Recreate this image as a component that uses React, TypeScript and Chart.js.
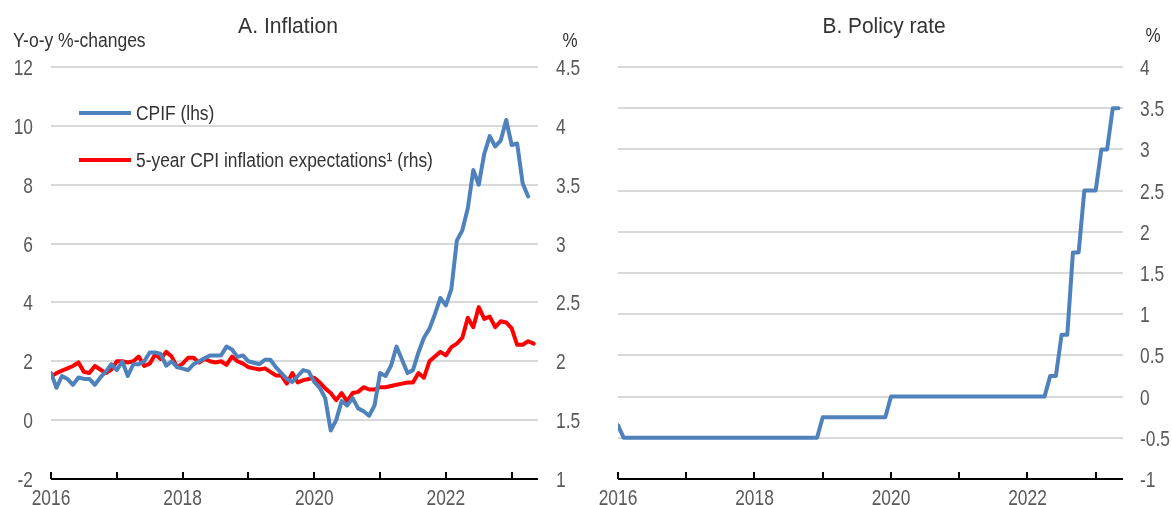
import { useEffect, useRef } from 'react';
import { Chart, registerables } from 'chart.js';

Chart.register(...registerables);

// ---------- data ----------
const FIRST_YEAR = 2016;
const X_MIN = 2016;
const X_MAX = 2023.4;
const yearTicks = [2016, 2017, 2018, 2019, 2020, 2021, 2022, 2023];
const labelledYears = [2016, 2018, 2020, 2022];

const inflationLeftTicks = [-2, 0, 2, 4, 6, 8, 10, 12];
const inflationRightTicks = [1, 1.5, 2, 2.5, 3, 3.5, 4, 4.5];
const policyTicks = [-1, -0.5, 0, 0.5, 1, 1.5, 2, 2.5, 3, 3.5, 4];

// CPIF, y-o-y %, monthly Jan 2016 - Apr 2023
const cpif = [
  1.6, 1.1, 1.5, 1.4, 1.2, 1.45, 1.4, 1.4, 1.2, 1.45, 1.65, 1.9,
  1.7, 2.0, 1.5, 1.9, 1.9, 2.0, 2.3, 2.3, 2.25, 1.85, 2.0, 1.8,
  1.75, 1.7, 1.9, 2.0, 2.1, 2.2, 2.2, 2.2, 2.5, 2.4, 2.15, 2.2,
  2.0, 1.95, 1.9, 2.05, 2.05, 1.8, 1.6, 1.4, 1.3, 1.5, 1.7, 1.65,
  1.3, 1.1, 0.75, -0.35, 0.0, 0.65, 0.5, 0.75, 0.4, 0.3, 0.15, 0.5,
  1.6, 1.5, 1.85, 2.5, 2.05, 1.6, 1.7, 2.3, 2.8, 3.1, 3.6, 4.15,
  3.9, 4.45, 6.1, 6.45, 7.2, 8.5, 8.0, 9.05, 9.65, 9.3, 9.5, 10.2,
  9.35, 9.4, 8.05, 7.6,
];

// 5-year CPI inflation expectations, %, monthly Jan 2016 - May 2023
const expectations = [
  1.87, 1.9, 1.92, 1.94, 1.96, 1.99, 1.91, 1.9, 1.96, 1.93, 1.9, 1.93,
  2.0, 2.0, 1.99, 2.0, 2.04, 1.96, 1.98, 2.06, 2.02, 2.08, 2.04, 1.95,
  1.98, 2.03, 2.03, 1.99, 2.02, 2.0, 1.99, 2.0, 1.97, 2.04, 2.0, 1.98,
  1.95, 1.94, 1.93, 1.94, 1.91, 1.88, 1.88, 1.81, 1.9, 1.82, 1.84, 1.85,
  1.86, 1.82, 1.77, 1.73, 1.67, 1.73, 1.66, 1.73, 1.74, 1.78, 1.76, 1.76,
  1.78, 1.78, 1.79, 1.8, 1.81, 1.82, 1.82, 1.9, 1.86, 2.0, 2.04, 2.08,
  2.05, 2.12, 2.15, 2.2, 2.37, 2.29, 2.46, 2.36, 2.38, 2.29, 2.34, 2.33,
  2.28, 2.14, 2.14, 2.17, 2.15,
];

// Policy rate, %, monthly Jan 2016 - May 2023
const policyRate = [
  -0.35, -0.5, -0.5, -0.5, -0.5, -0.5, -0.5, -0.5, -0.5, -0.5, -0.5, -0.5,
  -0.5, -0.5, -0.5, -0.5, -0.5, -0.5, -0.5, -0.5, -0.5, -0.5, -0.5, -0.5,
  -0.5, -0.5, -0.5, -0.5, -0.5, -0.5, -0.5, -0.5, -0.5, -0.5, -0.5, -0.5,
  -0.25, -0.25, -0.25, -0.25, -0.25, -0.25, -0.25, -0.25, -0.25, -0.25, -0.25, -0.25,
  0, 0, 0, 0, 0, 0, 0, 0, 0, 0, 0, 0,
  0, 0, 0, 0, 0, 0, 0, 0, 0, 0, 0, 0,
  0, 0, 0, 0, 0.25, 0.25, 0.75, 0.75, 1.75, 1.75, 2.5, 2.5,
  2.5, 3.0, 3.0, 3.5, 3.5,
];

// ---------- styling ----------
const FONT = "'Liberation Sans', Arial, sans-serif";
const BLUE = '#4f81bd';
const RED = '#ff0000';
const GRID = '#d9d9d9';
const TICK_COLOR = '#595959';
const TEXT_COLOR = '#333333';
const TICK_SIZE = 22;
const TICK_SX = 0.79;

const toPoints = (vals: number[]) => vals.map((v, i) => ({ x: FIRST_YEAR + i / 12, y: v }));

function drawText(
  ctx: CanvasRenderingContext2D,
  text: string,
  x: number,
  y: number,
  size: number,
  align: CanvasTextAlign,
  sx: number,
  color: string,
) {
  ctx.save();
  ctx.font = `${size}px ${FONT}`;
  ctx.fillStyle = color;
  ctx.textAlign = align;
  ctx.textBaseline = 'alphabetic';
  ctx.translate(x, y);
  ctx.scale(sx, 1);
  ctx.fillText(text, 0, 0);
  ctx.restore();
}

const decorPlugin = {
  id: 'decor',
  beforeDatasetsDraw(chart: any) {
    const { ctx, chartArea } = chart;
    const xs = chart.scales.x;
    ctx.save();
    ctx.strokeStyle = '#000000';
    ctx.lineWidth = 2;
    ctx.beginPath();
    ctx.moveTo(chartArea.left, chartArea.bottom);
    ctx.lineTo(chartArea.right, chartArea.bottom);
    xs.ticks.forEach((t: any) => {
      const px = Math.round(xs.getPixelForValue(t.value));
      ctx.moveTo(px, chartArea.bottom);
      ctx.lineTo(px, chartArea.bottom - 7);
    });
    ctx.stroke();
    ctx.restore();
  },
  afterDraw(chart: any, _args: any, opts: any) {
    const { ctx, chartArea } = chart;
    // axis labels
    (opts.axes || []).forEach((ax: any) => {
      const sc = chart.scales[ax.id];
      sc.ticks.forEach((t: any) => {
        const v = t.value;
        if (ax.side === 'bottom') {
          if (!labelledYears.includes(v)) return;
          drawText(ctx, String(v), sc.getPixelForValue(v), ax.baseline, TICK_SIZE, 'center', TICK_SX, TICK_COLOR);
        } else if (ax.side === 'left') {
          drawText(ctx, String(v), chartArea.left - ax.pad, sc.getPixelForValue(v) + 8, TICK_SIZE, 'right', TICK_SX, TICK_COLOR);
        } else {
          drawText(ctx, String(v), chartArea.right + ax.pad, sc.getPixelForValue(v) + 8, TICK_SIZE, 'left', TICK_SX, TICK_COLOR);
        }
      });
    });
    (opts.texts || []).forEach((t: any) => {
      drawText(ctx, t.text, t.x, t.y, t.size, t.align, t.sx, t.color || TEXT_COLOR);
    });
    if (opts.legend) {
      const lg = opts.legend;
      chart.data.datasets.forEach((ds: any, i: number) => {
        const y = lg.y + i * lg.dy;
        ctx.save();
        ctx.strokeStyle = ds.borderColor;
        ctx.lineWidth = 4;
        ctx.lineCap = 'butt';
        ctx.beginPath();
        ctx.moveTo(lg.x, y);
        ctx.lineTo(lg.x + lg.len, y);
        ctx.stroke();
        ctx.restore();
        drawText(ctx, ds.label, lg.x + lg.len + 5, y + 7, lg.size, 'left', lg.sx, TEXT_COLOR);
      });
    }
  },
};

const xScale = (height: number) => ({
  type: 'linear',
  min: X_MIN,
  max: X_MAX,
  grid: { display: false, drawTicks: false },
  border: { display: false },
  afterBuildTicks: (s: any) => {
    s.ticks = yearTicks.map((v) => ({ value: v }));
  },
  afterFit: (s: any) => {
    s.height = height;
  },
  ticks: { display: false },
});

function makeInflation(canvas: HTMLCanvasElement) {
  return new Chart(canvas, {
    type: 'line',
    data: {
      datasets: [
        {
          label: 'CPIF (lhs)',
          data: toPoints(cpif),
          borderColor: BLUE,
          borderWidth: 4,
          pointRadius: 0,
          borderJoinStyle: 'round',
          borderCapStyle: 'round',
          yAxisID: 'y',
          tension: 0,
        },
        {
          label: '5-year CPI inflation expectations\u00b9 (rhs)',
          data: toPoints(expectations),
          borderColor: RED,
          borderWidth: 4,
          pointRadius: 0,
          borderJoinStyle: 'round',
          borderCapStyle: 'round',
          yAxisID: 'y1',
          tension: 0,
        },
      ],
    },
    options: {
      responsive: false,
      animation: false,
      events: [],
      layout: { padding: { top: 67, left: 0, right: 0, bottom: 0 } },
      scales: {
        x: xScale(26) as any,
        y: {
          type: 'linear',
          position: 'left',
          min: -2,
          max: 12,
          afterBuildTicks: (s: any) => {
            s.ticks = inflationLeftTicks.map((v) => ({ value: v }));
          },
          afterFit: (s: any) => {
            s.width = 51;
          },
          grid: { color: GRID, lineWidth: 2, drawTicks: false },
          border: { display: false },
          ticks: { display: false },
        },
        y1: {
          type: 'linear',
          position: 'right',
          min: 1,
          max: 4.5,
          afterBuildTicks: (s: any) => {
            s.ticks = inflationRightTicks.map((v) => ({ value: v }));
          },
          afterFit: (s: any) => {
            s.width = 48;
          },
          grid: { display: false, drawTicks: false },
          border: { display: false },
          ticks: { display: false },
        },
      },
      plugins: {
        legend: { display: false },
        tooltip: { enabled: false },
        decor: {
          axes: [
            { id: 'x', side: 'bottom', baseline: 505 },
            { id: 'y', side: 'left', pad: 18 },
            { id: 'y1', side: 'right', pad: 18 },
          ],
          texts: [
            { text: 'A. Inflation', x: 288, y: 33, size: 22, sx: 0.96, align: 'center' },
            { text: 'Y-o-y %-changes', x: 13, y: 47, size: 20, sx: 0.875, align: 'left' },
            { text: '%', x: 570, y: 47, size: 20, sx: 0.85, align: 'center' },
          ],
          legend: { x: 79, y: 113, dy: 47, len: 52, size: 20, sx: 0.87 },
        },
      } as any,
    },
    plugins: [decorPlugin],
  } as any);
}

function makePolicy(canvas: HTMLCanvasElement) {
  return new Chart(canvas, {
    type: 'line',
    data: {
      datasets: [
        {
          label: 'Policy rate',
          data: toPoints(policyRate),
          borderColor: BLUE,
          borderWidth: 4,
          pointRadius: 0,
          borderJoinStyle: 'round',
          borderCapStyle: 'round',
          tension: 0,
        },
      ],
    },
    options: {
      responsive: false,
      animation: false,
      events: [],
      layout: { padding: { top: 67, left: 32, right: 0, bottom: 0 } },
      scales: {
        x: xScale(26) as any,
        y: {
          type: 'linear',
          position: 'right',
          min: -1,
          max: 4,
          afterBuildTicks: (s: any) => {
            s.ticks = policyTicks.map((v) => ({ value: v }));
          },
          afterFit: (s: any) => {
            s.width = 49;
          },
          grid: { color: GRID, lineWidth: 2, drawTicks: false },
          border: { display: false },
          ticks: { display: false },
        },
      },
      plugins: {
        legend: { display: false },
        tooltip: { enabled: false },
        decor: {
          axes: [
            { id: 'x', side: 'bottom', baseline: 505 },
            { id: 'y', side: 'right', pad: 17 },
          ],
          texts: [
            { text: 'B. Policy rate', x: 298, y: 33, size: 22, sx: 0.95, align: 'center' },
            { text: '%', x: 567, y: 42, size: 20, sx: 0.85, align: 'center' },
          ],
        },
      } as any,
    },
    plugins: [decorPlugin],
  } as any);
}

export default function App() {
  const refA = useRef<HTMLCanvasElement | null>(null);
  const refB = useRef<HTMLCanvasElement | null>(null);

  useEffect(() => {
    if (!refA.current || !refB.current) return;
    const a = makeInflation(refA.current);
    const b = makePolicy(refB.current);
    return () => {
      a.destroy();
      b.destroy();
    };
  }, []);

  return (
    <div style={{ position: 'absolute', left: 0, top: 0, width: 1172, height: 505, background: '#fff' }}>
      <canvas ref={refA} width={586} height={505} style={{ position: 'absolute', left: 0, top: 0, width: 586, height: 505 }} />
      <canvas ref={refB} width={586} height={505} style={{ position: 'absolute', left: 586, top: 0, width: 586, height: 505 }} />
    </div>
  );
}
